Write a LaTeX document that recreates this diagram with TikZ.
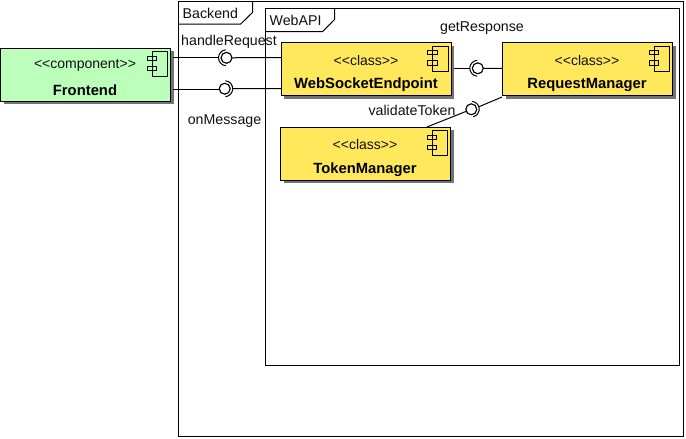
\documentclass[tikz,border=0pt]{standalone}
\usepackage{fontspec}
\setmainfont{Liberation Sans}
\usetikzlibrary{shadows}
\definecolor{compgreen}{HTML}{BBFFBB}
\definecolor{compyellow}{HTML}{FFE85C}
\definecolor{inktext}{HTML}{101010}
\tikzset{
  box/.style={draw=black,line width=1pt,minimum width=170pt,minimum height=53pt,inner sep=0pt,outer sep=0pt,
    drop shadow={shadow xshift=3pt,shadow yshift=-3pt,fill=black!55,opacity=1}},
  frame/.style={draw=black,line width=1pt},
  stereo/.style={font=\fontsize{14}{16}\selectfont,text=inktext,inner sep=0pt},
  title/.style={font=\fontsize{14.8}{17}\selectfont\bfseries,text=black,inner sep=0pt},
  lbl/.style={font=\fontsize{14.2}{16}\selectfont,text=inktext,inner sep=0pt},
  ball/.style={circle,draw=black,line width=1pt,fill=white,minimum size=10.8pt,inner sep=0pt,outer sep=0pt},
  wire/.style={draw=black,line width=1pt},
  sock/.style={draw=black,line width=1pt},
  icon/.style={draw=black,line width=1pt,fill=none}
}
\newcommand{\compicon}[1]{%
  \draw[icon] ([xshift=-18.4pt,yshift=-3.7pt]#1.north east) rectangle ([xshift=-3pt,yshift=-28.7pt]#1.north east);
  \draw[icon,fill=none] ([xshift=-23.4pt,yshift=-8pt]#1.north east) rectangle ([xshift=-14pt,yshift=-12.2pt]#1.north east);
  \draw[icon,fill=none] ([xshift=-23.4pt,yshift=-18pt]#1.north east) rectangle ([xshift=-14pt,yshift=-22.7pt]#1.north east);
}
\begin{document}
\begin{tikzpicture}[x=1pt,y=-1pt]
\useasboundingbox (0,0) rectangle (686,439);
\fill[white] (0,0) rectangle (686,439);
% frames
\draw[frame] (178.5,1.5) rectangle (683.5,436.5);
\draw[frame] (178.5,24) -- (240.7,24) -- (252.5,12.5) -- (252.5,1.5);
\node[lbl,anchor=west] (backendlbl) at (182.5,13) {Backend};
\draw[frame] (265.5,8.5) rectangle (679,365.5);
\draw[frame] (265.5,31.5) -- (322.7,31.5) -- (334.5,19.5) -- (334.5,8.5);
\node[lbl,anchor=west] (webapilbl) at (269.5,20) {WebAPI};
% boxes
\node[box,fill=compgreen] (fe) at (85.5,74.5) {};
\node[box,fill=compyellow] (ws) at (366.3,69) {};
\node[box,fill=compyellow] (rm) at (587.5,69) {};
\node[box,fill=compyellow] (tm) at (365.5,153.5) {};
\compicon{fe}\compicon{ws}\compicon{rm}\compicon{tm}
\node[stereo] (fes) at (85,65.5) {<{}<{}component>{}>};
\node[title] (fet) at (85,90) {Frontend};
\node[stereo] (wss) at (366,60) {<{}<{}class>{}>};
\node[title] (wst) at (366,85) {WebSocketEndpoint};
\node[stereo] (rms) at (587,60) {<{}<{}class>{}>};
\node[title] (rmt) at (587,85) {RequestManager};
\node[stereo] (tms) at (365,144.5) {<{}<{}class>{}>};
\node[title] (tmt) at (365,169.5) {TokenManager};
% interfaces
\node[ball] (b1) at (226.5,57.8) {};
\node[ball] (b2) at (224.7,88.7) {};
\node[ball] (b3) at (477.8,68.3) {};
\node[ball] (b4) at (471.3,109.3) {};
% socket apexes
\coordinate (s1) at ([xshift=-8pt]b1.center);
\coordinate (s2) at ([xshift=8pt]b2.center);
\coordinate (s3) at ([xshift=-8pt]b3.center);
\coordinate (s4) at ([xshift=7.5pt,yshift=2.5pt]b4.center);
% connector ends
\coordinate (feA) at (172.5,57.5);
\coordinate (feB) at (172.5,89.5);
\coordinate (wsC) at (454,68.5);
\coordinate (tmN) at (427,127);
\coordinate (rmS) at (502,97);
\coordinate (wsA) at (281,57.5);
\coordinate (wsB) at (281,88.5);
\coordinate (rmW) at (502,68.5);
\draw[wire] (feA) -- (feA -| s1);
\draw[wire] (b1) -- (wsA);
\draw[wire] (feB) -- (feB -| b2.west);
\draw[wire] (s2) -- (wsB);
\draw[wire] (wsC) -- (wsC -| s3);
\draw[wire] (b3) -- (rmW);
\draw[wire] (tmN) -- (b4);
\draw[wire] (s4) -- (rmS);
% sockets
\draw[sock] (b1.center) ++(95:8) arc[start angle=95,end angle=265,radius=8];
\draw[sock] (b2.center) ++(-85:8) arc[start angle=-85,end angle=85,radius=8];
\draw[sock] (b3.center) ++(95:8) arc[start angle=95,end angle=265,radius=8];
\draw[sock] (b4.center) ++(-85:8) arc[start angle=-85,end angle=75,radius=8];
% balls above the wires
\node[ball] at (b1) {};
\node[ball] at (b2) {};
\node[ball] at (b3) {};
\node[ball] at (b4) {};
% labels
\node[lbl] (l1) at (229,42) {handleRequest};
\node[lbl] (l2) at (224.5,121.5) {onMessage};
\node[lbl] (l3) at (482,28.5) {getResponse};
\node[lbl] (l4) at (412,110) {validateToken};
\end{tikzpicture}
\end{document}
